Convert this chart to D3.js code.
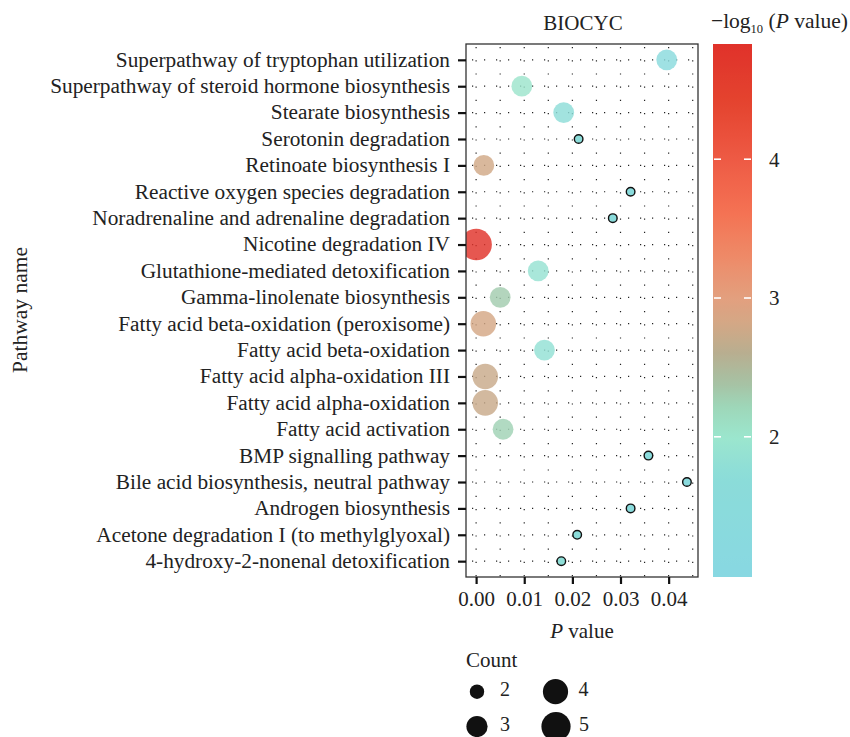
<!DOCTYPE html>
<html>
<head>
<meta charset="utf-8">
<script src="https://cdn.jsdelivr.net/npm/d3@7"></script>
<style>
  html, body { margin: 0; padding: 0; background: #fff; }
  svg { display: block; font-family: "Liberation Serif", "DejaVu Serif", serif; }
</style>
</head>
<body>
<svg id="chart" width="850" height="737"></svg>
<script>
// ---------------- data ----------------
const categories = [
  "Superpathway of tryptophan utilization",
  "Superpathway of steroid hormone biosynthesis",
  "Stearate biosynthesis",
  "Serotonin degradation",
  "Retinoate biosynthesis I",
  "Reactive oxygen species degradation",
  "Noradrenaline and adrenaline degradation",
  "Nicotine degradation IV",
  "Glutathione-mediated detoxification",
  "Gamma-linolenate biosynthesis",
  "Fatty acid beta-oxidation (peroxisome)",
  "Fatty acid beta-oxidation",
  "Fatty acid alpha-oxidation III",
  "Fatty acid alpha-oxidation",
  "Fatty acid activation",
  "BMP signalling pathway",
  "Bile acid biosynthesis, neutral pathway",
  "Androgen biosynthesis",
  "Acetone degradation I (to methylglyoxal)",
  "4-hydroxy-2-nonenal detoxification"
];
const pValues = [
  0.0396, 0.0095, 0.0182, 0.0213, 0.0016,
  0.0321, 0.0284, 0.000015, 0.0129, 0.0050,
  0.0015, 0.0142, 0.0019, 0.0019, 0.0056,
  0.0358, 0.0438, 0.0321, 0.0210, 0.0177
];
const counts = [
  3, 3, 3, 2, 3,
  2, 2, 5, 3, 3,
  4, 3, 4, 4, 3,
  2, 2, 2, 2, 2
];
const xTicks = [0, 0.01, 0.02, 0.03, 0.04];
const xTickLabels = ["0.00", "0.01", "0.02", "0.03", "0.04"];
const xGrid = [0, 0.005, 0.01, 0.015, 0.02, 0.025, 0.03, 0.035, 0.04, 0.045];
const colorTicks = [2, 3, 4];
const colorLimits = [0.99, 4.83];
const legendCounts = [2, 3, 4, 5];

const colorStopValues = [0.99, 1.7, 2.0, 2.2, 2.4, 2.6, 2.8, 3.0, 3.3, 3.6, 4.0, 4.4, 4.83];
const colorStopColors = ["#88D8E2", "#8BDCD9", "#9CE6CE", "#9DD8BA", "#A7C0A2", "#B8AE90",
                         "#D2A886", "#E39F7E", "#EE8A68", "#F47354", "#EE5A44", "#E4442F", "#E0322A"];

// ---------------- layout ----------------
const panel = { left: 466, right: 698, top: 44, bottom: 577 };
const svg = d3.select("#chart");

const x = d3.scaleLinear().domain([-0.0021, 0.0461]).range([panel.left, panel.right]);
const y = d3.scalePoint().domain(categories).range([panel.top, panel.bottom]).padding(0.6);
const color = d3.scaleLinear().domain(colorStopValues).range(colorStopColors).interpolate(d3.interpolateRgb);
const rPlot = d3.scaleLinear().domain([2, 3, 4, 5]).range([4.3, 10.4, 12.8, 15.7]);
const rLegend = d3.scaleLinear().domain([2, 3, 4, 5]).range([7.2, 10.6, 12.6, 14.6]);

const data = categories.map((c, i) => ({ cat: c, p: pValues[i], n: counts[i], v: -Math.log10(pValues[i]) }));

// clip
const defs = svg.append("defs");
defs.append("clipPath").attr("id", "clip").append("rect")
  .attr("x", panel.left).attr("y", panel.top)
  .attr("width", panel.right - panel.left).attr("height", panel.bottom - panel.top);

// grid
const grid = svg.append("g").attr("clip-path", "url(#clip)");
grid.selectAll("line.h").data(categories).join("line")
  .attr("x1", panel.left).attr("x2", panel.right)
  .attr("y1", d => y(d)).attr("y2", d => y(d))
  .attr("stroke", "#222").attr("stroke-width", 1.2)
  .attr("stroke-dasharray", "1.2,10.8").attr("stroke-dashoffset", -6);
grid.selectAll("line.v").data(xGrid).join("line")
  .attr("x1", d => x(d)).attr("x2", d => x(d))
  .attr("y1", panel.top).attr("y2", panel.bottom)
  .attr("stroke", "#222").attr("stroke-width", 1.2)
  .attr("stroke-dasharray", "1.2,12").attr("stroke-dashoffset", -3);

// points
const pts = svg.append("g").attr("clip-path", "url(#clip)");
pts.selectAll("circle").data(data.filter(d => d.n > 2)).join("circle")
  .attr("cx", d => x(d.p)).attr("cy", d => y(d.cat))
  .attr("r", d => rPlot(d.n))
  .attr("fill", d => color(d.v)).attr("fill-opacity", 0.82);
pts.selectAll("circle.small").data(data.filter(d => d.n === 2)).join("circle")
  .attr("class", "small")
  .attr("cx", d => x(d.p)).attr("cy", d => y(d.cat))
  .attr("r", d => rPlot(d.n))
  .attr("fill", d => color(d.v)).attr("stroke", "#111").attr("stroke-width", 1.4);

// panel border
svg.append("rect").attr("x", panel.left).attr("y", panel.top)
  .attr("width", panel.right - panel.left).attr("height", panel.bottom - panel.top)
  .attr("fill", "none").attr("stroke", "#333").attr("stroke-width", 1.3);

// y axis
const yAxis = svg.append("g").attr("transform", `translate(${panel.left},0)`)
  .call(d3.axisLeft(y).tickSize(8).tickPadding(8));
yAxis.select(".domain").remove();
yAxis.selectAll(".tick line").attr("stroke", "#111").attr("stroke-width", 2.2);
yAxis.selectAll(".tick text").attr("fill", "#222").attr("font-size", 21.3)
  .attr("font-family", "Liberation Serif").attr("dy", "0.3em");

// x axis
const xAxis = svg.append("g").attr("transform", `translate(0,${panel.bottom})`)
  .call(d3.axisBottom(x).tickValues(xTicks).tickFormat((d, i) => xTickLabels[i]).tickSize(7).tickPadding(8));
xAxis.select(".domain").remove();
xAxis.selectAll(".tick line").attr("stroke", "#111").attr("stroke-width", 2.2);
xAxis.selectAll(".tick text").attr("fill", "#222").attr("font-size", 21)
  .attr("font-family", "Liberation Serif").attr("dy", "0.68em");

// axis titles
const xt = svg.append("text").attr("x", (panel.left + panel.right) / 2).attr("y", 638)
  .attr("text-anchor", "middle").attr("font-size", 21).attr("fill", "#222");
xt.append("tspan").attr("font-style", "italic").text("P");
xt.append("tspan").text(" value");

svg.append("text").attr("transform", "translate(27,310) rotate(-90)")
  .attr("text-anchor", "middle").attr("font-size", 21.5).attr("fill", "#222").text("Pathway name");

svg.append("text").attr("x", (panel.left + panel.right) / 2 + 1).attr("y", 30)
  .attr("text-anchor", "middle").attr("font-size", 21).attr("fill", "#222").text("BIOCYC");

// colorbar
const cb = { x: 713, w: 39, top: panel.top, bottom: panel.bottom };
const cy = d3.scaleLinear().domain(colorLimits).range([cb.bottom, cb.top]);
const grad = defs.append("linearGradient").attr("id", "cbgrad")
  .attr("x1", 0).attr("x2", 0).attr("y1", 1).attr("y2", 0);
d3.range(0, 1.0001, 0.02).forEach(t => {
  const v = colorLimits[0] + t * (colorLimits[1] - colorLimits[0]);
  grad.append("stop").attr("offset", t).attr("stop-color", color(v));
});
svg.append("rect").attr("x", cb.x).attr("y", cb.top).attr("width", cb.w).attr("height", cb.bottom - cb.top)
  .attr("fill", "url(#cbgrad)");
const cbt = svg.append("g");
cbt.selectAll("line.l").data(colorTicks).join("line")
  .attr("x1", cb.x + 1).attr("x2", cb.x + 8).attr("y1", d => cy(d)).attr("y2", d => cy(d))
  .attr("stroke", "#fff").attr("stroke-width", 1.6);
cbt.selectAll("line.r").data(colorTicks).join("line").attr("class", "r")
  .attr("x1", cb.x + cb.w - 8).attr("x2", cb.x + cb.w - 1).attr("y1", d => cy(d)).attr("y2", d => cy(d))
  .attr("stroke", "#fff").attr("stroke-width", 1.6);
cbt.selectAll("text").data(colorTicks).join("text")
  .attr("x", 769).attr("y", d => cy(d)).attr("dy", "0.35em")
  .attr("font-size", 21).attr("fill", "#222").text(d => d);

const ct = svg.append("text").attr("x", 711).attr("y", 28).attr("font-size", 21.5).attr("fill", "#222");
ct.append("tspan").text("\u2212log");
ct.append("tspan").attr("font-size", 12.5).attr("dy", 5).text("10");
ct.append("tspan").attr("dy", -5).text(" (");
ct.append("tspan").attr("font-style", "italic").text("P");
ct.append("tspan").text(" value)");

// size legend
svg.append("text").attr("x", 466).attr("y", 667).attr("font-size", 21).attr("fill", "#222").text("Count");
const legPos = [
  { n: 2, cx: 477, cy: 691.7 },
  { n: 3, cx: 477, cy: 726.5 },
  { n: 4, cx: 555.5, cy: 691.7 },
  { n: 5, cx: 556, cy: 726.5 }
];
const leg = svg.append("g");
leg.selectAll("circle").data(legPos).join("circle")
  .attr("cx", d => d.cx).attr("cy", d => d.cy).attr("r", d => rLegend(d.n)).attr("fill", "#111");
leg.selectAll("text").data(legPos).join("text")
  .attr("x", d => d.cx + 23).attr("y", d => d.cy + 4.5)
  .attr("font-size", 20).attr("fill", "#222").text(d => d.n);
</script>
</body>
</html>
